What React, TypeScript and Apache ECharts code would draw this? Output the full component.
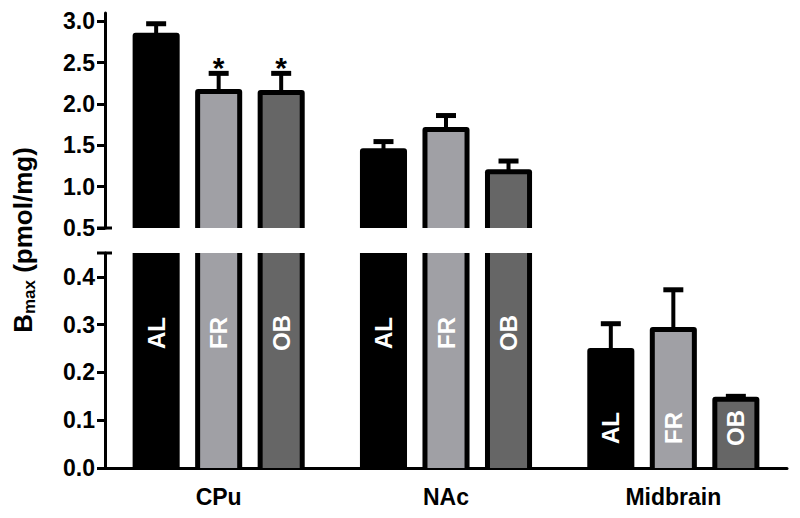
import React, { useEffect, useRef } from "react";
import * as echarts from "echarts";

const categories = ["CPu", "NAc", "Midbrain"];
const groups = ["AL", "FR", "OB"];
const alValues = [2.83, 1.435, 0.246];
const frValues = [2.15, 1.69, 0.29];
const obValues = [2.14, 1.18, 0.144];
const alErrors = [0.14, 0.11, 0.056];
const frErrors = [0.22, 0.17, 0.083];
const obErrors = [0.23, 0.13, 0.006];
const significance = [
  ["", "*", "*"],
  ["", "", ""],
  ["", "", ""],
];
const upperTicks = [0.5, 1.0, 1.5, 2.0, 2.5, 3.0];
const lowerTicks = [0.0, 0.1, 0.2, 0.3, 0.4];
const upperRange = [0.5, 3.1];
const lowerRange = [0, 0.45];

const groupColors = ["#000000", "#a0a0a5", "#666666"];
const FONT = '"Liberation Sans", Arial, Helvetica, sans-serif';

const allValues = [alValues, frValues, obValues];
const allErrors = [alErrors, frErrors, obErrors];

function buildData() {
  const rows: number[][] = [];
  categories.forEach((_, ci) => {
    groups.forEach((_, gi) => {
      rows.push([ci, gi, allValues[gi][ci], allErrors[gi][ci]]);
    });
  });
  return rows;
}

function makeRenderItem(lower: boolean) {
  return (params: any, api: any) => {
    const ci = api.value(0);
    const gi = api.value(1);
    const v = api.value(2);
    const e = api.value(3);
    const cs = params.coordSys;
    const band = api.size([1, 0])[0];
    const c = api.coord([ci, v]);
    const cx = c[0] + (gi - 1) * band * 0.275;
    const w = band * 0.207;
    const bw = 5;
    const top = cs.y;
    const bottom = cs.y + cs.height;
    const yv = c[1] - bw / 2;
    if (yv >= bottom) return null;
    const clippedTop = yv < top;
    const yTop = Math.max(yv, top);
    const children: any[] = [];
    children.push({
      type: "rect",
      shape: {
        x: cx - w / 2,
        y: yTop,
        width: w,
        height: bottom - yTop,
        r: clippedTop ? 0 : [3, 3, 0, 0],
      },
      style: { fill: "#000" },
    });
    if (gi !== 0) {
      const iy = clippedTop ? yTop : yTop + bw;
      children.push({
        type: "rect",
        shape: { x: cx - w / 2 + bw, y: iy, width: w - 2 * bw, height: bottom - iy },
        style: { fill: groupColors[gi] },
      });
    }
    if (!clippedTop) {
      const ye = api.coord([ci, v + e])[1];
      children.push({
        type: "line",
        shape: { x1: cx, y1: yTop + 2, x2: cx, y2: ye },
        style: { stroke: "#000", lineWidth: 4 },
      });
      children.push({
        type: "line",
        shape: { x1: cx - 10, y1: ye, x2: cx + 10, y2: ye },
        style: { stroke: "#000", lineWidth: 5 },
      });
      const sig = significance[ci][gi];
      if (sig) {
        children.push({
          type: "text",
          x: cx,
          y: ye - 6,
          style: {
            text: sig,
            fill: "#000",
            fontSize: 30,
            fontWeight: "bold",
            fontFamily: FONT,
            align: "center",
            verticalAlign: "middle",
          },
        });
      }
    }
    if (lower) {
      const ly = bottom - (clippedTop ? 135 : 40);
      children.push({
        type: "text",
        x: cx,
        y: ly,
        rotation: Math.PI / 2,
        style: {
          text: groups[gi],
          fill: "#fff",
          fontSize: 24,
          fontWeight: "bold",
          fontFamily: FONT,
          align: "center",
          verticalAlign: "middle",
        },
      });
    }
    return { type: "group", children };
  };
}

export default function App() {
  const ref = useRef<HTMLDivElement>(null);
  useEffect(() => {
    if (!ref.current) return;
    const chart = echarts.init(ref.current, null, { renderer: "svg" });
    const data = buildData();
    const axisLabelStyle = {
      color: "#000",
      fontSize: 23,
      fontWeight: "bold" as const,
      fontFamily: FONT,
      margin: 10,
      formatter: (val: number) => val.toFixed(1),
    };
    const option: any = {
      animation: false,
      backgroundColor: "#fff",
      grid: [
        { left: 105, right: 13, top: 13, height: 215, containLabel: false, outerBoundsMode: "none" },
        { left: 105, right: 13, top: 253, height: 215, containLabel: false, outerBoundsMode: "none" },
      ],
      xAxis: [
        { type: "category", gridIndex: 0, data: categories, show: false },
        {
          type: "category",
          gridIndex: 1,
          data: categories,
          axisLine: { show: true, lineStyle: { color: "#000", width: 3 } },
          axisTick: { show: false },
          axisLabel: {
            color: "#000",
            fontSize: 23,
            fontWeight: "bold",
            fontFamily: FONT,
            margin: 17,
          },
        },
      ],
      yAxis: [
        {
          type: "value",
          gridIndex: 0,
          min: upperRange[0],
          max: upperRange[1],
          splitLine: { show: false },
          axisLine: { show: true, lineStyle: { color: "#000", width: 3 } },
          axisTick: { show: true, length: 8, lineStyle: { color: "#000", width: 3 }, customValues: upperTicks },
          axisLabel: { ...axisLabelStyle, customValues: upperTicks },
        },
        {
          type: "value",
          gridIndex: 1,
          min: lowerRange[0],
          max: lowerRange[1],
          splitLine: { show: false },
          axisLine: { show: true, lineStyle: { color: "#000", width: 3 } },
          axisTick: { show: true, length: 8, lineStyle: { color: "#000", width: 3 }, customValues: lowerTicks },
          axisLabel: { ...axisLabelStyle, customValues: lowerTicks },
        },
      ],
      series: [
        {
          type: "custom",
          xAxisIndex: 0,
          yAxisIndex: 0,
          renderItem: makeRenderItem(false),
          encode: { x: 0, y: 2 },
          data,
          clip: false,
        },
        {
          type: "custom",
          xAxisIndex: 1,
          yAxisIndex: 1,
          renderItem: makeRenderItem(true),
          encode: { x: 0, y: 2 },
          data,
          clip: false,
        },
      ],
      graphic: [
        {
          type: "line",
          shape: { x1: 97, y1: 228, x2: 112, y2: 228 },
          style: { stroke: "#000", lineWidth: 3 },
          z: 100,
        },
        {
          type: "line",
          shape: { x1: 97, y1: 253, x2: 112, y2: 253 },
          style: { stroke: "#000", lineWidth: 3 },
          z: 100,
        },
        {
          type: "text",
          x: 23,
          y: 240,
          rotation: Math.PI / 2,
          style: {
            text: "{b|B}{s|max}{b| (pmol/mg)}",
            align: "center",
            verticalAlign: "middle",
            rich: {
              b: { fontSize: 26, fontWeight: "bold", fontFamily: FONT, fill: "#000", lineHeight: 30 },
              s: { fontSize: 17, fontWeight: "bold", fontFamily: FONT, fill: "#000", lineHeight: 16, verticalAlign: "bottom" },
            },
          },
        },
      ],
    };
    chart.setOption(option);
    return () => chart.dispose();
  }, []);
  return (
    <div
      ref={ref}
      style={{ position: "absolute", left: 0, top: 0, width: 800, height: 518 }}
    />
  );
}
